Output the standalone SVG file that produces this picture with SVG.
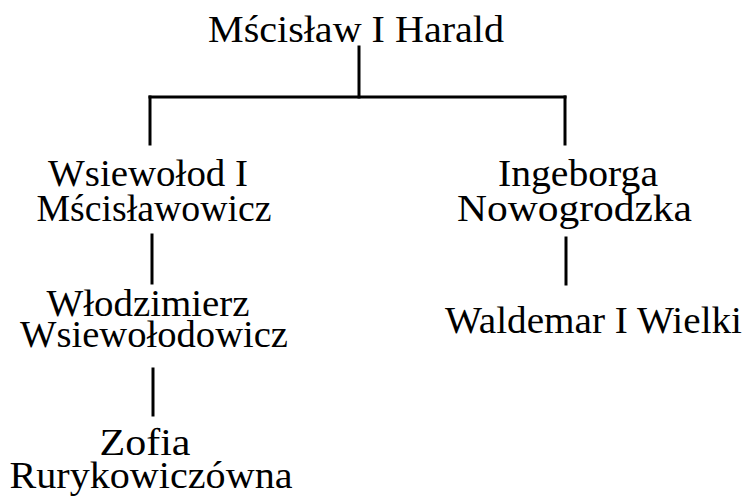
<svg xmlns="http://www.w3.org/2000/svg" width="747" height="499" viewBox="0 0 747 499">
<style>
.t text{font-family:'Liberation Serif',serif;font-size:38px;fill:#000;text-anchor:middle}
.c line{stroke:#000;stroke-width:3;stroke-linecap:square}
</style>
<rect width="747" height="499" fill="#fff"/>
<g class="c" id="connectors">
<line x1="359" y1="47" x2="359" y2="97"/>
<line x1="150" y1="97" x2="565" y2="97"/>
<line x1="150" y1="97" x2="150" y2="144"/>
<line x1="565" y1="97" x2="565" y2="144"/>
<line x1="152" y1="235" x2="152" y2="283"/>
<line x1="153" y1="369" x2="153" y2="415"/>
<line x1="566" y1="238" x2="566" y2="284"/>
</g>
<g class="t">
<g id="n-mscislaw"><text x="356" y="42" textLength="296" lengthAdjust="spacingAndGlyphs">Mścisław I Harald</text></g>
<g id="n-wsiewolod"><text x="148" y="186" textLength="200" lengthAdjust="spacingAndGlyphs">Wsiewołod I</text><text x="154" y="221" textLength="235" lengthAdjust="spacingAndGlyphs">Mścisławowicz</text></g>
<g id="n-wlodzimierz"><text x="148" y="316" textLength="203" lengthAdjust="spacingAndGlyphs">Włodzimierz</text><text x="154" y="347" textLength="268" lengthAdjust="spacingAndGlyphs">Wsiewołodowicz</text></g>
<g id="n-zofia"><text x="145" y="455" textLength="91" lengthAdjust="spacingAndGlyphs">Zofia</text><text x="151" y="488" textLength="283" lengthAdjust="spacingAndGlyphs">Rurykowiczówna</text></g>
<g id="n-ingeborga"><text x="578" y="186" textLength="160" lengthAdjust="spacingAndGlyphs">Ingeborga</text><text x="574.5" y="221" textLength="235" lengthAdjust="spacingAndGlyphs">Nowogrodzka</text></g>
<g id="n-waldemar"><text x="593.5" y="333" textLength="297" lengthAdjust="spacingAndGlyphs">Waldemar I Wielki</text></g>
</g>
</svg>
